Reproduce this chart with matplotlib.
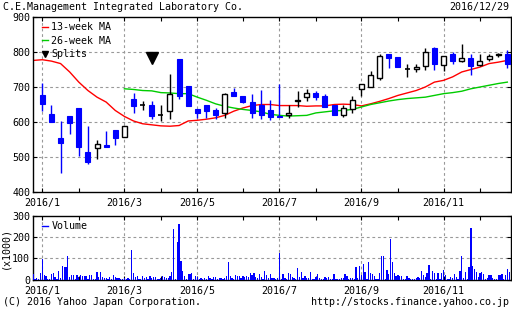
import numpy as np
import matplotlib
matplotlib.use("Agg")
import matplotlib.pyplot as plt
from matplotlib.lines import Line2D

plt.rcParams["font.family"] = ["DejaVu Sans Mono"]
plt.rcParams["font.size"] = 7.2

# weekly candles, 2016 (week 0 = first week of January)
opens = [676, 622, 553, 616, 639, 513, 527, 535, 576, 558, 667, 650, 650, 621, 631, 781, 702, 636,
         648, 633, 626, 685, 675, 656, 650, 633, 618, 619, 660, 671, 682, 673, 648, 620, 638, 694,
         701, 726, 793, 785, 752, 752, 761, 811, 763, 793, 774, 784, 764, 780, 792, 795]
highs = [712, 648, 602, 616, 639, 590, 550, 573, 576, 590, 684, 659, 659, 648, 736, 781, 702, 636,
         648, 639, 683, 697, 675, 679, 692, 662, 708, 650, 690, 695, 689, 681, 648, 650, 673, 710,
         745, 795, 793, 785, 765, 765, 812, 814, 790, 801, 822, 793, 795, 793, 797, 807]
lows = [631, 600, 454, 565, 502, 479, 494, 530, 534, 558, 626, 635, 610, 603, 608, 665, 646, 612,
        611, 610, 612, 674, 654, 611, 608, 605, 613, 611, 643, 659, 662, 643, 620, 614, 626, 674,
        701, 721, 754, 757, 730, 743, 750, 750, 745, 765, 771, 735, 760, 774, 787, 754]
closes = [652, 600, 540, 597, 529, 485, 538, 530, 554, 590, 646, 650, 616, 621, 681, 674, 646, 626,
          631, 620, 679, 674, 656, 625, 620, 614, 613, 627, 664, 682, 671, 643, 620, 641, 664, 708,
          733, 790, 782, 757, 752, 757, 800, 766, 788, 774, 784, 760, 774, 790, 795, 767]

# 13-week MA from the week before week 0, 26-week MA from week 9
ma13 = [776, 778, 774, 767, 743, 714, 690, 671, 657, 633, 616, 603, 595, 592, 589, 588, 590, 603,
        605, 608, 612, 619, 631, 640, 647, 650, 650, 647, 647, 647, 645, 646, 646, 650, 651, 650,
        646, 652, 659, 667, 676, 683, 690, 700, 714, 719, 729, 743, 750, 757, 767, 771, 776]
ma26 = [695, 693, 690, 689, 684, 683, 681, 681, 671, 662, 652, 645, 640, 636, 633, 629, 622, 619,
        617, 618, 619, 626, 629, 632, 633, 636, 643, 650, 655, 660, 664, 667, 669, 671, 676, 681,
        684, 688, 695, 700, 705, 710, 714]
split_week = 12
split_price = 782

# daily volume (x1000)
volume = [26, 5, 8, 5, 34, 98, 23, 20, 5, 4, 28, 31, 15, 6, 40, 8, 65, 59, 62, 110,
          15, 22, 22, 6, 22, 15, 25, 19, 17, 19, 6, 22, 22, 5, 6, 37, 15, 36, 14, 9,
          11, 6, 14, 5, 22, 12, 9, 8, 5, 4, 11, 5, 11, 4, 140, 31, 12, 19, 5, 6,
          17, 9, 12, 5, 17, 9, 12, 15, 5, 4, 9, 17, 12, 11, 8, 17, 37, 237, 6, 178,
          260, 88, 43, 19, 5, 28, 28, 34, 5, 19, 12, 5, 8, 5, 11, 6, 19, 11, 5, 12,
          15, 6, 9, 8, 5, 11, 17, 82, 19, 11, 6, 23, 20, 17, 9, 17, 15, 17, 12, 31,
          23, 31, 15, 8, 28, 15, 6, 42, 23, 8, 28, 8, 9, 5, 8, 127, 6, 28, 11, 5,
          31, 26, 15, 8, 5, 54, 15, 37, 8, 19, 8, 8, 37, 5, 5, 12, 26, 8, 5, 4,
          12, 8, 12, 4, 5, 26, 5, 4, 5, 8, 9, 26, 19, 5, 9, 9, 5, 59, 8, 65,
          22, 74, 39, 6, 84, 31, 26, 19, 5, 6, 31, 112, 112, 6, 47, 28, 189, 85, 31, 19,
          22, 19, 19, 5, 6, 19, 11, 6, 4, 5, 8, 15, 11, 42, 23, 15, 31, 70, 6, 42,
          31, 6, 34, 5, 34, 45, 23, 6, 5, 15, 8, 26, 15, 6, 43, 112, 8, 36, 6, 60,
          242, 65, 51, 37, 15, 31, 39, 26, 6, 8, 22, 22, 8, 5, 6, 23, 23, 29, 6, 23,
          51, 39]

tick_weeks = [0, 4, 9, 13, 17, 22, 26, 30, 35, 39, 44, 48]
tick_labels = ["2016/1", "", "2016/3", "", "2016/5", "", "2016/7", "", "2016/9", "", "2016/11", ""]
grid_weeks = [0, 9, 17, 26, 35, 44]

BLUE = "#0000ff"
GRID = dict(color="#999999", linestyle=(0, (2.5, 2.5)), linewidth=0.8)

fig = plt.figure(figsize=(5.12, 3.10), dpi=100)
ax = fig.add_axes([0.0645, 0.3806, 0.933, 0.5645])
axv = fig.add_axes([0.0645, 0.0968, 0.933, 0.2080])
xlim = (-1.02, 51.37)

# candles
weeks = np.arange(len(opens))
bw = 0.55
for w, o, h, l, c in zip(weeks, opens, highs, lows, closes):
    if c < o:
        ax.vlines(w, l, h, color=BLUE, lw=1, zorder=3)
        ax.bar(w, o - c, bottom=c, width=bw, color=BLUE, edgecolor=BLUE, lw=0.8, zorder=4)
    elif c > o:
        ax.vlines(w, l, h, color="black", lw=1, zorder=3)
        ax.bar(w, c - o, bottom=o, width=bw, color="white", edgecolor="black", lw=1, zorder=4)
    else:
        ax.vlines(w, l, h, color="black", lw=1, zorder=3)
        ax.hlines(o, w - bw / 2, w + bw / 2, color="black", lw=1.2, zorder=4)

ax.plot(np.arange(-1, len(ma13) - 1), ma13, color="#ff0000", lw=1, zorder=2)
ax.plot(np.arange(9, 9 + len(ma26)), ma26, color="#00cc00", lw=1, zorder=2)
ax.plot([split_week], [split_price], marker="v", color="black", ms=8, ls="none", zorder=5)

ax.set_xlim(*xlim)
ax.set_ylim(400, 900)
ax.set_yticks([400, 500, 600, 700, 800, 900])
ax.set_xticks(tick_weeks)
ax.set_xticklabels(tick_labels)
for y in [500, 600, 700, 800]:
    ax.axhline(y, zorder=1, **GRID)
for x in grid_weeks:
    ax.axvline(x, zorder=1, **GRID)

handles = [Line2D([], [], color="#ff0000", lw=1),
           Line2D([], [], color="#00cc00", lw=1),
           Line2D([], [], color="black", marker="v", ls="none", ms=5)]
ax.legend(handles, ["13-week MA", "26-week MA", "Splits"], loc="upper left",
          bbox_to_anchor=(0.005, 1.01), frameon=False, handlelength=0.6,
          handletextpad=0.3, labelspacing=0.35, borderpad=0.2, fontsize=7.2)

# volume
vol_x = np.arange(len(volume)) * 0.2 - 1.0
axv.bar(vol_x, volume, width=0.14, color=BLUE, zorder=3)
axv.set_xlim(*xlim)
axv.set_ylim(0, 300)
axv.set_yticks([0, 100, 200, 300])
axv.set_xticks(tick_weeks)
axv.set_xticklabels(tick_labels)
for y in [100, 200]:
    axv.axhline(y, zorder=1, **GRID)
for x in grid_weeks:
    axv.axvline(x, zorder=1, **GRID)
axv.legend([Line2D([], [], color=BLUE, lw=1)], ["Volume"], loc="upper left",
           bbox_to_anchor=(0.005, 1.02), frameon=False, handlelength=0.6,
           handletextpad=0.3, borderpad=0.2, fontsize=7.2)
axv.set_ylabel("(x1000)", labelpad=1)

for a in (ax, axv):
    a.tick_params(direction="in", length=3, width=0.8, top=True, right=True,
                  pad=2, labelsize=7.2)
    a.tick_params(axis="x", pad=4)
    for s in a.spines.values():
        s.set_linewidth(1)

fig.text(3 / 512, 1 - 7 / 310, "C.E.Management Integrated Laboratory Co.", ha="left", va="center")
fig.text(509 / 512, 1 - 7 / 310, "2016/12/29", ha="right", va="center")
fig.text(3 / 512, 1 - 302 / 310, "(C) 2016 Yahoo Japan Corporation.", ha="left", va="center")
fig.text(509 / 512, 1 - 302 / 310, "http://stocks.finance.yahoo.co.jp", ha="right", va="center")

fig.savefig("out.png", dpi=100)
